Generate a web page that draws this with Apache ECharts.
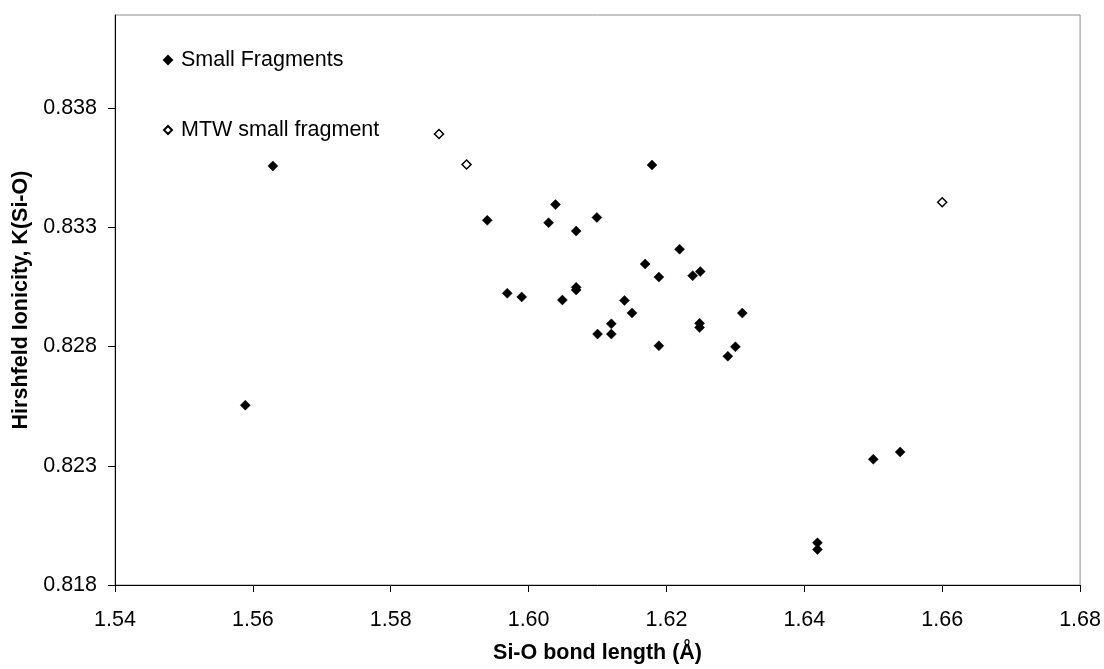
<!DOCTYPE html>
<html>
<head>
<meta charset="utf-8">
<script src="https://cdn.jsdelivr.net/npm/echarts@6/dist/echarts.min.js"></script>
<style>html,body{margin:0;padding:0;background:#fff;}#c{width:1104px;height:669px;}</style>
</head>
<body>
<div id="c"></div>
<script>
const xTicks = [1.54, 1.56, 1.58, 1.60, 1.62, 1.64, 1.66, 1.68];
const yTicks = [0.818, 0.823, 0.828, 0.833, 0.838];
const seriesNames = ['Small Fragments', 'MTW small fragment'];
const smallFragments = [
  [1.5589, 0.82554], [1.5629, 0.83557], [1.5940, 0.83329], [1.5969, 0.83023],
  [1.5990, 0.83008], [1.6029, 0.83319], [1.6039, 0.83395], [1.6049, 0.82995],
  [1.6069, 0.83284], [1.6069, 0.83048], [1.6069, 0.83037], [1.6099, 0.83341],
  [1.6100, 0.82852], [1.6120, 0.82895], [1.6120, 0.82852], [1.6139, 0.82993],
  [1.6150, 0.82941], [1.6169, 0.83146], [1.6179, 0.83561], [1.6189, 0.83091],
  [1.6189, 0.82803], [1.6219, 0.83208], [1.6238, 0.83097], [1.6249, 0.83114],
  [1.6248, 0.82897], [1.6248, 0.82880], [1.6289, 0.82759], [1.6300, 0.82799],
  [1.6310, 0.82940], [1.6419, 0.81977], [1.6419, 0.81949], [1.6500, 0.82327],
  [1.6539, 0.82358]
];
const mtwSmallFragment = [[1.5870, 0.83691], [1.5910, 0.83563], [1.6600, 0.83405]];

const FONT = "'Liberation Sans', Arial, sans-serif";
const chart = echarts.init(document.getElementById('c'), null, {renderer: 'canvas'});
chart.setOption({
  animation: false,
  backgroundColor: '#fff',
  textStyle: {fontFamily: FONT},
  grid: {left: 115, right: 22, top: 15, bottom: 81, show: true, borderColor: '#8c8c8c', borderWidth: 1, backgroundColor: 'transparent'},
  legend: {
    orient: 'vertical', left: 158, top: 44, itemWidth: 8, itemHeight: 8, itemGap: 48,
    textStyle: {fontFamily: FONT, fontSize: 21.5, color: '#000', lineHeight: 22, padding: [0, 0, 0, 4]},
    data: [
      {name: seriesNames[0], icon: 'diamond'},
      {name: seriesNames[1], icon: 'diamond'}
    ]
  },
  xAxis: {
    type: 'value', min: xTicks[0], max: xTicks[xTicks.length - 1], interval: 0.02,
    name: 'Si-O bond length (Å)', nameLocation: 'middle', nameGap: 57,
    nameTextStyle: {fontFamily: FONT, fontSize: 21.5, fontWeight: 'bold', color: '#000'},
    axisLine: {lineStyle: {color: '#000', width: 1}},
    axisTick: {show: true, inside: false, length: 7, lineStyle: {color: '#000'}},
    axisLabel: {margin: 24, fontFamily: FONT, fontSize: 21.5, color: '#000', formatter: v => v.toFixed(2)},
    splitLine: {show: false}
  },
  yAxis: {
    type: 'value', min: yTicks[0], max: 0.8419, interval: 0.005,
    name: 'Hirshfeld Ionicity, K(Si-O)', nameLocation: 'middle', nameGap: 81,
    nameTextStyle: {fontFamily: FONT, fontSize: 21.5, fontWeight: 'bold', color: '#000'},
    axisLine: {lineStyle: {color: '#000', width: 1}},
    axisTick: {show: true, inside: false, length: 7, lineStyle: {color: '#000'}, customValues: yTicks},
    axisLabel: {margin: 18, fontFamily: FONT, fontSize: 21.5, color: '#000', customValues: yTicks,
      formatter: v => (v > 0.8385 ? '' : v.toFixed(3))},
    splitLine: {show: false}
  },
  series: [
    {
      name: seriesNames[0], type: 'scatter', symbol: 'diamond', symbolSize: 10,
      itemStyle: {color: '#000', borderColor: '#000', borderWidth: 0.5, opacity: 1},
      data: smallFragments
    },
    {
      name: seriesNames[1], type: 'scatter', symbol: 'diamond', symbolSize: 9,
      itemStyle: {color: '#fff', borderColor: '#000', borderWidth: 1.5, opacity: 1},
      data: mtwSmallFragment
    }
  ]
});
</script>
</body>
</html>
